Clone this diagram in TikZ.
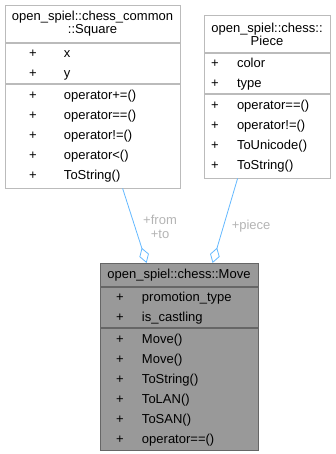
\documentclass[tikz,border=0pt]{standalone}
\usepackage{fontspec}
\setmainfont{Liberation Sans}
\usetikzlibrary{positioning}
\usetikzlibrary{arrows.meta}

\definecolor{edgeblue}{HTML}{63B8FF}
\definecolor{labelgrey}{HTML}{B4B4B4}
\definecolor{boxline}{HTML}{BBBBBB}
\definecolor{focusline}{HTML}{666666}
\definecolor{focusfill}{HTML}{999999}

\newlength{\plusx}
\newlength{\namex}
\newcommand{\member}[1]{\strut\hspace*{\plusx}\makebox[0pt]{+}\hspace*{\namex}#1}

\begin{document}
\begin{tikzpicture}[x=1pt, y=-1pt,
    part/.style={rectangle, draw=boxline, fill=white, line width=0.8pt, inner sep=0pt,
      text width=#1, anchor=north},
    head/.style={part=#1, align=center, font=\fontsize{13}{13}\selectfont},
    rows/.style 2 args={align=left, font=\fontsize{13}{20}\selectfont,
      execute at begin node={\setlength{\plusx}{#1}\setlength{\namex}{#2}}},
    focus/.style={draw=focusline, fill=focusfill},
    aggr/.style={draw=edgeblue, line width=0.8pt, -{Diamond[open, length=16pt, width=10pt]}},
    role/.style={text=labelgrey, inner sep=0pt, align=center, font=\fontsize{13}{14}\selectfont}]

      \useasboundingbox (0,0) rectangle (335,454);

      % chess_common::Square
      \node[head=175pt, minimum height=37pt] (sqhead) at (92.5,5) {open\_spiel::chess\_common\\::Square};
      \node[part=175pt, rows={28pt}{31pt}, minimum height=39pt, below=0pt of sqhead] (sqattr)
        {\member{x}\\\member{y}};
      \node[part=175pt, rows={28pt}{31pt}, minimum height=104pt, below=0pt of sqattr] (sqops)
        {\member{operator+=()}\\\member{operator==()}\\\member{operator!=()}\\\member{operator<()}\\\member{ToString()}};

      % chess::Piece
      \node[head=126pt, minimum height=37pt] (pchead) at (267,15) {open\_spiel::chess::\\Piece};
      \node[part=126pt, rows={11pt}{22pt}, minimum height=38pt, below=0pt of pchead] (pcattr)
        {\member{color}\\\member{type}};
      \node[part=126pt, rows={11pt}{22pt}, minimum height=84pt, below=0pt of pcattr] (pcops)
        {\member{operator==()}\\\member{operator!=()}\\\member{ToUnicode()}\\\member{ToString()}};

      % chess::Move
      \node[head=158pt, focus, minimum height=23pt] (mvhead) at (179,263) {open\_spiel::chess::Move};
      \node[part=158pt, focus, rows={20pt}{22pt}, minimum height=40pt, below=0pt of mvhead] (mvattr)
        {\member{promotion\_type}\\\member{is\_castling}};
      \node[part=158pt, focus, rows={20pt}{22pt}, minimum height=122pt, below=0pt of mvattr] (mvops)
        {\member{Move()}\\\member{Move()}\\\member{ToString()}\\\member{ToLAN()}\\\member{ToSAN()}\\\member{operator==()}};

      \draw[aggr] ([xshift=118pt]sqops.south west) -- ([xshift=47pt]mvhead.north west)
        node[role, pos=0.51, right=8pt] (fromto) {+from\\+to};
      \draw[aggr] ([xshift=34pt]pcops.south west) -- ([xshift=113pt]mvhead.north west)
        node[role, pos=0.57, right=8pt] (piece) {+piece};

    \end{tikzpicture}
\end{document}
